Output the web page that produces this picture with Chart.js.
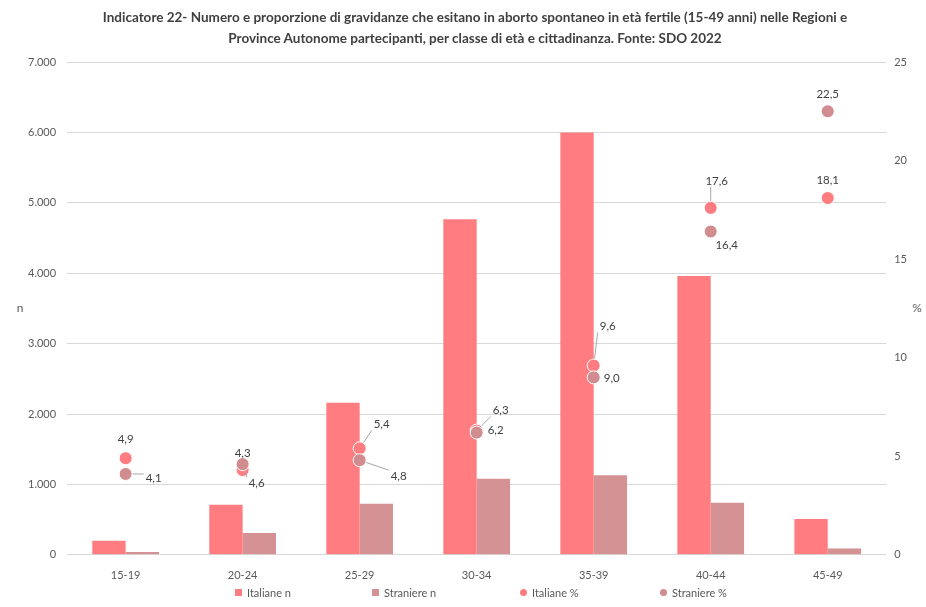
<!DOCTYPE html>
<html>
<head>
<meta charset="utf-8">
<script src="https://cdn.jsdelivr.net/npm/chart.js@4.4.1/dist/chart.umd.min.js"></script>
<style>
  html, body { margin: 0; padding: 0; background: #fff; }
  #wrap { width: 926px; height: 607px; position: relative; }
  #title { position: absolute; left: 0; width: 950px; top: 7px; text-align: center;
           font: bold 13.5px/21px Lato, "Open Sans", sans-serif; color: #404040; }
  #legend { position: absolute; left: 0; top: 586px; width: 926px; height: 14px;
            font: 11px Lato, "Open Sans", sans-serif; color: #595959; }
  #legend span.item { position: absolute; display: flex; align-items: center; white-space: nowrap; }
  #legend i { display: inline-block; width: 7px; height: 7px; margin-right: 5px; }
  #legend i.dot { border-radius: 50%; }
</style>
</head>
<body>
<div id="wrap">
  <canvas id="chart" width="926" height="607"></canvas>
  <div id="title">Indicatore 22- Numero e proporzione di gravidanze che esitano in aborto spontaneo in età fertile (15-49 anni) nelle Regioni e<br>Province Autonome partecipanti, per classe di età e cittadinanza. Fonte: SDO 2022</div>
  <div id="legend"></div>
</div>
<script>
// --- data ---
const ageGroups = ['15-19', '20-24', '25-29', '30-34', '35-39', '40-44', '45-49'];
const italianeN = [200, 710, 2160, 4765, 6000, 3960, 510];
const straniereN = [40, 310, 725, 1080, 1130, 740, 90];
const italianePct = [4.9, 4.3, 5.4, 6.3, 9.6, 17.6, 18.1];
const stranierePct = [4.1, 4.6, 4.8, 6.2, 9.0, 16.4, 22.5];
const leftTicks = [0, 1000, 2000, 3000, 4000, 5000, 6000, 7000];
const rightTicks = [0, 5, 10, 15, 20, 25];

const FONT = 'Lato, "Open Sans", sans-serif';
const GREY = '#595959';

// label offsets from the point (dx, dy, leader line)
const labelPlacement = {
  2: [[0, -19, 0], [0, -17, 0], [22, -24, 1], [24, -20, 1], [14, -39, 1], [6, -27, 1], [0, -18, 0]],
  3: [[28, 4, 1], [14, 19, 1], [39, 16, 1], [19, -2, 0], [18, 1, 0], [16, 14, 0], [0, -17, 0]]
};
const legendLeft = [235, 372, 520, 660];

function fmtThousands(v) {
  return String(v).replace(/\B(?=(\d{3})+(?!\d))/g, '.');
}

const pointLabels = {
  id: 'pointLabels',
  afterDatasetsDraw(chart) {
    const ctx = chart.ctx;
    ctx.save();
    ctx.font = '11.5px ' + FONT;
    ctx.textAlign = 'center';
    ctx.textBaseline = 'middle';
    [2, 3].forEach(di => {
      const meta = chart.getDatasetMeta(di);
      const vals = chart.data.datasets[di].data;
      meta.data.forEach((pt, i) => {
        const [dx, dy, leader] = labelPlacement[di][i];
        const txt = vals[i].toFixed(1).replace('.', ',');
        const lx = pt.x + dx, ly = pt.y + dy;
        if (leader) {
          const w = ctx.measureText(txt).width / 2 + 2, h = 6;
          const tx = Math.max(lx - w, Math.min(pt.x, lx + w));
          const ty = Math.max(ly - h, Math.min(pt.y, ly + h));
          const ang = Math.atan2(ty - pt.y, tx - pt.x);
          ctx.strokeStyle = '#a6a6a6';
          ctx.lineWidth = 1;
          ctx.beginPath();
          ctx.moveTo(pt.x + Math.cos(ang) * 7, pt.y + Math.sin(ang) * 7);
          ctx.lineTo(tx, ty);
          ctx.stroke();
        }
        ctx.fillStyle = '#404040';
        ctx.fillText(txt, lx, ly);
      });
    });
    ctx.restore();
  }
};

// horizontal axis titles ("n" and "%")
const axisTitles = {
  id: 'axisTitles',
  afterDraw(chart) {
    const ctx = chart.ctx, a = chart.chartArea;
    ctx.save();
    ctx.font = '12px ' + FONT;
    ctx.fillStyle = GREY;
    ctx.textAlign = 'center';
    ctx.textBaseline = 'middle';
    const mid = (a.top + a.bottom) / 2;
    ctx.fillText('n', 20, mid);
    ctx.fillText('%', 917, mid);
    ctx.restore();
  }
};

const chart = new Chart(document.getElementById('chart'), {
  type: 'bar',
  data: {
    labels: ageGroups,
    datasets: [
      { label: 'Italiane n', data: italianeN, backgroundColor: '#ff7c80', yAxisID: 'y', order: 2,
        categoryPercentage: 0.57, barPercentage: 1.0 },
      { label: 'Straniere n', data: straniereN, backgroundColor: '#d49294', yAxisID: 'y', order: 2,
        categoryPercentage: 0.57, barPercentage: 1.0 },
      { type: 'line', label: 'Italiane %', data: italianePct, yAxisID: 'y1', showLine: false, order: 1,
        pointRadius: 6.5, pointBackgroundColor: '#ff7c80', pointBorderColor: '#ffffff', pointBorderWidth: 1,
        backgroundColor: '#ff7c80', borderColor: '#ff7c80' },
      { type: 'line', label: 'Straniere %', data: stranierePct, yAxisID: 'y1', showLine: false, order: 0,
        pointRadius: 6.5, pointBackgroundColor: '#d08c8e', pointBorderColor: '#ffffff', pointBorderWidth: 1,
        backgroundColor: '#d08c8e', borderColor: '#d08c8e' }
    ]
  },
  options: {
    responsive: false,
    animation: false,
    layout: { padding: { left: 17, right: 11, top: 62, bottom: 19 } },
    plugins: {
      legend: { display: false },
      tooltip: { enabled: false }
    },
    scales: {
      x: {
        grid: { display: false },
        border: { display: false },
        ticks: { color: GREY, font: { family: FONT, size: 11 }, padding: 6 }
      },
      y: {
        position: 'left',
        min: 0, max: 7000,
        afterBuildTicks(axis) { axis.ticks = leftTicks.map(v => ({ value: v })); },
        ticks: { color: GREY, font: { family: FONT, size: 11 }, padding: 11, callback: v => fmtThousands(v) },
        grid: { color: '#d9d9d9', drawTicks: false },
        border: { display: false }
      },
      y1: {
        position: 'right',
        min: 0, max: 25,
        afterBuildTicks(axis) { axis.ticks = rightTicks.map(v => ({ value: v })); },
        ticks: { color: GREY, font: { family: FONT, size: 11 }, padding: 8 },
        grid: { display: false, drawTicks: false },
        border: { display: false }
      }
    }
  },
  plugins: [pointLabels, axisTitles]
});

// legend built from the datasets
const legendEl = document.getElementById('legend');
chart.data.datasets.forEach((ds, i) => {
  const item = document.createElement('span');
  item.className = 'item';
  item.style.left = legendLeft[i] + 'px';
  item.innerHTML = `<i class="${i < 2 ? '' : 'dot'}" style="background:${ds.backgroundColor}"></i>${ds.label}`;
  legendEl.appendChild(item);
});
</script>
</body>
</html>
